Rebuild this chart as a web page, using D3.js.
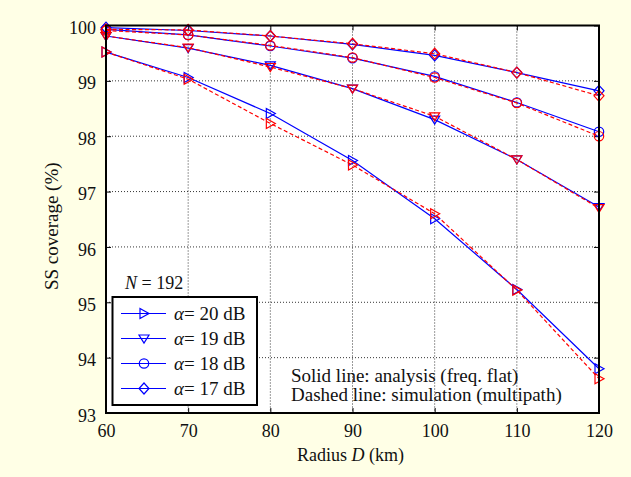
<!DOCTYPE html>
<html><head><meta charset="utf-8">
<script src="https://cdn.jsdelivr.net/npm/d3@7"></script>
<style>
html,body{margin:0;padding:0;background:#FFFFE6;}
svg{display:block;}
</style></head>
<body>
<script>
const radius = [60, 70, 80, 90, 100, 110, 120];
const xTicks = [60, 70, 80, 90, 100, 110, 120];
const yTicks = [93, 94, 95, 96, 97, 98, 99, 100];
const alphaLabels = ["20 dB", "19 dB", "18 dB", "17 dB"];
const markerTypes = ["triRight", "triDown", "circle", "diamond"];
const analysis20 = [99.52, 99.06, 98.41, 97.56, 96.51, 95.23, 93.80];
const analysis19 = [99.81, 99.59, 99.28, 98.86, 98.30, 97.58, 96.72];
const analysis18 = [99.93, 99.83, 99.63, 99.41, 99.08, 98.61, 98.08];
const analysis17 = [99.96, 99.91, 99.81, 99.66, 99.46, 99.15, 98.82];
const sim20 = [99.52, 99.03, 98.23, 97.48, 96.60, 95.22, 93.62];
const sim19 = [99.81, 99.60, 99.25, 98.86, 98.36, 97.58, 96.70];
const sim18 = [99.91, 99.83, 99.64, 99.42, 99.06, 98.60, 98.00];
const sim17 = [99.93, 99.92, 99.81, 99.67, 99.49, 99.15, 98.73];
const analysisSeries = [analysis20, analysis19, analysis18, analysis17];
const simSeries = [sim20, sim19, sim18, sim17];

const FONT = '"Liberation Serif", "Times New Roman", serif';
const W = 631, H = 477;
const m = {left: 106, right: 599, top: 25.5, bottom: 413};
const svg = d3.select("body").append("svg").attr("width", W).attr("height", H);
svg.append("rect").attr("width", W).attr("height", H).attr("fill", "#FFFFE6");

const x = d3.scaleLinear().domain([60, 120]).range([m.left, m.right]);
const y = d3.scaleLinear().domain([93, 100]).range([m.bottom, m.top]);

svg.append("rect").attr("x", m.left).attr("y", m.top)
  .attr("width", m.right - m.left).attr("height", m.bottom - m.top).attr("fill", "#fff");

// grid
const grid = svg.append("g");
grid.selectAll(".gx").data(xTicks.slice(1, -1)).join("line")
  .attr("x1", d => x(d)).attr("x2", d => x(d)).attr("y1", m.top).attr("y2", m.bottom)
  .attr("stroke", "#000").attr("stroke-width", 0.8).attr("stroke-dasharray", "1,2");
grid.selectAll(".gy").data(yTicks.slice(1, -1)).join("line")
  .attr("y1", d => y(d)).attr("y2", d => y(d)).attr("x1", m.left).attr("x2", m.right)
  .attr("stroke", "#000").attr("stroke-width", 0.8).attr("stroke-dasharray", "1,2");

// axes
const tl = 5;
const fmt = d3.format("d");
const axB = svg.append("g").attr("transform", `translate(0,${m.bottom})`)
  .call(d3.axisBottom(x).tickValues(xTicks).tickFormat(fmt).tickSize(-tl).tickPadding(11));
const axT = svg.append("g").attr("transform", `translate(0,${m.top})`)
  .call(d3.axisTop(x).tickValues(xTicks).tickSize(-tl).tickFormat(""));
const axL = svg.append("g").attr("transform", `translate(${m.left},0)`)
  .call(d3.axisLeft(y).tickValues(yTicks).tickFormat(fmt).tickSize(-tl).tickPadding(10));
const axR = svg.append("g").attr("transform", `translate(${m.right},0)`)
  .call(d3.axisRight(y).tickValues(yTicks).tickSize(-tl).tickFormat(""));
[axB, axT, axL, axR].forEach(a => {
  a.attr("font-family", null).attr("font-size", null);
  a.select(".domain").remove();
  a.selectAll(".tick line").attr("stroke", "#000").attr("stroke-width", 1);
  a.selectAll("text").style("font-family", FONT).style("font-size", "18px").attr("fill", "#111");
});
axL.selectAll("text").attr("dy", "0.45em");

function markerPath(type) {
  const s = 5;
  if (type === "triRight") return `M${-s+1},${-s} L${s},0 L${-s+1},${s} Z`;
  if (type === "triDown") return `M${-s},${-s+1.5} L${s},${-s+1.5} L0,${s-0.5} Z`;
  if (type === "diamond") return `M0,${-s-0.5} L${s},0 L0,${s+0.5} L${-s},0 Z`;
  return null;
}
function drawMarker(g, type, cx, cy, color) {
  if (type === "circle") {
    g.append("circle").attr("cx", cx).attr("cy", cy).attr("r", 4.7)
      .attr("fill", "none").attr("stroke", color).attr("stroke-width", 1.2);
  } else {
    g.append("path").attr("d", markerPath(type)).attr("transform", `translate(${cx},${cy})`)
      .attr("fill", "none").attr("stroke", color).attr("stroke-width", 1.2);
  }
}

const line = d3.line().x((d, i) => x(radius[i])).y(d => y(d));
const plot = svg.append("g");
analysisSeries.forEach((s, k) => {
  plot.append("path").datum(s).attr("d", line).attr("fill", "none")
    .attr("stroke", "#0000FF").attr("stroke-width", 1.2);
  s.forEach((v, i) => drawMarker(plot, markerTypes[k], x(radius[i]), y(v), "#0000FF"));
});
simSeries.forEach((s, k) => {
  plot.append("path").datum(s).attr("d", line).attr("fill", "none")
    .attr("stroke", "#FF0000").attr("stroke-width", 1.2).attr("stroke-dasharray", "4,2.5");
  s.forEach((v, i) => drawMarker(plot, markerTypes[k], x(radius[i]), y(v), "#FF0000"));
});

// frame
svg.append("rect").attr("x", m.left).attr("y", m.top)
  .attr("width", m.right - m.left).attr("height", m.bottom - m.top)
  .attr("fill", "none").attr("stroke", "#000").attr("stroke-width", 2);

function txt(xp, yp, size) {
  return svg.append("text").attr("x", xp).attr("y", yp)
    .style("font-family", FONT).style("font-size", size + "px").attr("fill", "#111");
}

// axis labels
txt((m.left + m.right) / 2 - 2, 461, 18).attr("text-anchor", "middle")
  .html('Radius <tspan font-style="italic">D</tspan> (km)');
svg.append("text").attr("transform", `translate(58,${(m.top + m.bottom) / 2 + 7}) rotate(-90)`)
  .attr("text-anchor", "middle").style("font-family", FONT).style("font-size", "19px").attr("fill", "#111")
  .text("SS coverage (%)");

// N = 192
txt(125, 289, 18).html('<tspan font-style="italic">N</tspan> = 192');

// legend
svg.append("rect").attr("x", 112.5).attr("y", 297).attr("width", 144.5).attr("height", 108)
  .attr("fill", "#fff").attr("stroke", "#000").attr("stroke-width", 2);
const lg = svg.append("g");
alphaLabels.forEach((lab, k) => {
  const ly = 313.5 + k * 25;
  lg.append("line").attr("x1", 121).attr("x2", 166).attr("y1", ly).attr("y2", ly)
    .attr("stroke", "#0000FF").attr("stroke-width", 1.2);
  drawMarker(lg, markerTypes[k], 144, ly, "#0000FF");
  lg.append("text").attr("x", 174).attr("y", ly + 6.5)
    .style("font-family", FONT).style("font-size", "19px").attr("fill", "#111")
    .html(`<tspan font-style="italic">α</tspan>= ${lab}`);
});

// annotation
txt(291, 382, 19).text("Solid line: analysis (freq. flat)");
txt(291, 401, 19).text("Dashed line: simulation (multipath)");
</script>
</body></html>
